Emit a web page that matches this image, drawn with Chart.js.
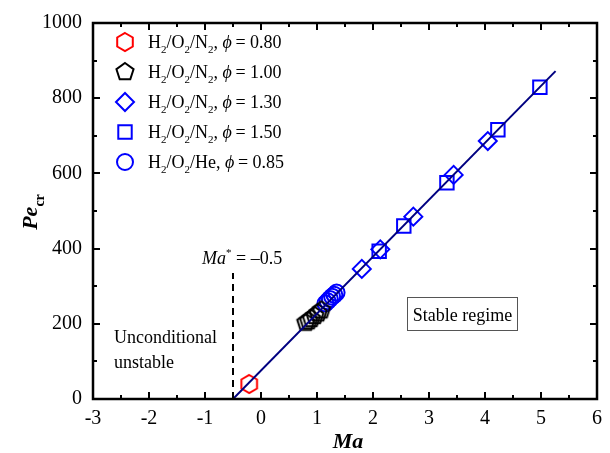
<!DOCTYPE html>
<html>
<head>
    <meta charset="UTF-8">
    <title>Pe_cr vs Ma</title>
    <script src="https://cdn.jsdelivr.net/npm/chart.js@4.4.1/dist/chart.umd.min.js"></script>
    <style>
        * { margin: 0; padding: 0; }
        body { background: #fff; width: 610px; height: 453px; overflow: hidden; }
    </style>
</head>
<body>
    <canvas id="chart" width="610" height="453"></canvas>
    <script>
        // data
        const maPhi080 = [-0.21];
        const pePhi080 = [40];
        const maPhi100 = [0.80, 0.85, 0.90, 0.96, 1.02, 1.08];
        const pePhi100 = [203, 207, 213, 221, 228, 236];
        const maPhi130 = [1.80, 2.13, 2.72, 3.44, 4.05];
        const pePhi130 = [346, 398, 485, 596, 686];
        const maPhi150 = [2.11, 2.55, 3.32, 4.23, 4.98];
        const pePhi150 = [393, 460, 575, 716, 829];
        const maHe085 = [1.15, 1.19, 1.23, 1.27, 1.31, 1.35];
        const peHe085 = [254, 260, 266, 272, 277, 283];
        const fitMa = [-0.5, 5.26];
        const fitPe = [0, 872];
        const critMa = [-0.5, -0.5];
        const critPe = [0, 335];
        const xTicks = [-3, -2, -1, 0, 1, 2, 3, 4, 5, 6];
        const yTicks = [0, 200, 400, 600, 800, 1000];

        const SERIF = '"Liberation Serif", "Times New Roman", serif';
        const toPts = (xs, ys) => xs.map((x, i) => ({ x: x, y: ys[i] }));

        function polygonImage(sides, r, color, lw) {
            const c = document.createElement('canvas');
            const s = Math.ceil(r * 2 + lw * 2 + 2);
            c.width = s; c.height = s;
            const g = c.getContext('2d');
            g.strokeStyle = color;
            g.lineWidth = lw;
            g.beginPath();
            for (let i = 0; i < sides; i++) {
                const a = -Math.PI / 2 + i * 2 * Math.PI / sides;
                const px = s / 2 + r * Math.cos(a), py = s / 2 + r * Math.sin(a);
                if (i === 0) g.moveTo(px, py); else g.lineTo(px, py);
            }
            g.closePath();
            g.stroke();
            return c;
        }

        const hexImg = polygonImage(6, 9, '#ff0000', 2);
        const pentImg = polygonImage(5, 9, '#000000', 2);

        const series = [
            { label: 'phi080', data: toPts(maPhi080, pePhi080), style: hexImg, color: '#ff0000', radius: 9,
              text: [['H'], ['2', 'sub'], ['/O'], ['2', 'sub'], ['/N'], ['2', 'sub'], [', '], ['\u03d5', 'i'], ['\u2009= 0.80']] },
            { label: 'phi100', data: toPts(maPhi100, pePhi100), style: pentImg, color: '#000000', radius: 9,
              text: [['H'], ['2', 'sub'], ['/O'], ['2', 'sub'], ['/N'], ['2', 'sub'], [', '], ['\u03d5', 'i'], ['\u2009= 1.00']] },
            { label: 'phi130', data: toPts(maPhi130, pePhi130), style: 'rectRot', color: '#0000ff', radius: 9,
              text: [['H'], ['2', 'sub'], ['/O'], ['2', 'sub'], ['/N'], ['2', 'sub'], [', '], ['\u03d5', 'i'], ['\u2009= 1.30']] },
            { label: 'phi150', data: toPts(maPhi150, pePhi150), style: 'rect', color: '#0000ff', radius: 9.5,
              text: [['H'], ['2', 'sub'], ['/O'], ['2', 'sub'], ['/N'], ['2', 'sub'], [', '], ['\u03d5', 'i'], ['\u2009= 1.50']] },
            { label: 'he085', data: toPts(maHe085, peHe085), style: 'circle', color: '#0000ff', radius: 8,
              text: [['H'], ['2', 'sub'], ['/O'], ['2', 'sub'], ['/He, '], ['\u03d5', 'i'], ['\u2009= 0.85']] }
        ];

        function drawRich(ctx, parts, x, y, size, align) {
            const fontFor = (s) => {
                if (s === 'sub' || s === 'sup') return Math.round(size * 0.62) + 'px ' + SERIF;
                if (s === 'i') return 'italic ' + size + 'px ' + SERIF;
                if (s === 'bi') return 'italic bold ' + size + 'px ' + SERIF;
                if (s === 'bsub') return 'bold ' + Math.round(size * 0.65) + 'px ' + SERIF;
                return size + 'px ' + SERIF;
            };
            let total = 0;
            parts.forEach(p => { ctx.font = fontFor(p[1]); total += ctx.measureText(p[0]).width; });
            let cx = align === 'center' ? x - total / 2 : x;
            ctx.textBaseline = 'alphabetic';
            ctx.textAlign = 'left';
            parts.forEach(p => {
                ctx.font = fontFor(p[1]);
                let dy = 0;
                if (p[1] === 'sub' || p[1] === 'bsub') dy = size * 0.3;
                if (p[1] === 'sup') dy = -size * 0.42;
                ctx.fillText(p[0], cx, y + dy);
                cx += ctx.measureText(p[0]).width;
            });
        }

        const framePlugin = {
            id: 'frame',
            afterDatasetsDraw(chart) {
                const ctx = chart.ctx;
                const a = chart.chartArea;
                const xs = chart.scales.x, ys = chart.scales.y;
                ctx.save();
                ctx.strokeStyle = '#000';
                ctx.fillStyle = '#000';

                // inward ticks on all four sides
                ctx.lineWidth = 2;
                for (let v = -3; v <= 6.001; v += 0.5) {
                    const px = Math.round(xs.getPixelForValue(v));
                    const len = Math.abs(v - Math.round(v)) < 1e-6 ? 7 : 4;
                    ctx.beginPath();
                    ctx.moveTo(px, a.bottom); ctx.lineTo(px, a.bottom - len);
                    ctx.moveTo(px, a.top); ctx.lineTo(px, a.top + len);
                    ctx.stroke();
                }
                for (let v = 0; v <= 1000; v += 100) {
                    const py = Math.round(ys.getPixelForValue(v));
                    const len = v % 200 === 0 ? 7 : 4;
                    ctx.beginPath();
                    ctx.moveTo(a.left, py); ctx.lineTo(a.left + len, py);
                    ctx.moveTo(a.right, py); ctx.lineTo(a.right - len, py);
                    ctx.stroke();
                }
                ctx.lineWidth = 2.5;
                ctx.strokeRect(a.left, a.top, a.right - a.left, a.bottom - a.top);

                // legend
                series.forEach((s, i) => {
                    const ly = 42 + i * 30;
                    ctx.strokeStyle = s.color;
                    ctx.fillStyle = 'rgba(0,0,0,0)';
                    ctx.lineWidth = 2;
                    Chart.helpers.drawPoint(ctx, { pointStyle: s.style, radius: s.radius, borderWidth: 2 }, 125, ly);
                    ctx.fillStyle = '#000';
                    drawRich(ctx, s.text, 148, ly + 6, 18);
                });

                // annotations
                ctx.fillStyle = '#000';
                drawRich(ctx, [['Ma', 'i'], ['*', 'sup'], [' = \u20130.5']], 202, 264, 18);
                drawRich(ctx, [['Unconditional']], 114, 343, 18);
                drawRich(ctx, [['unstable']], 114, 368, 18);
                ctx.strokeStyle = '#555';
                ctx.lineWidth = 1;
                ctx.strokeRect(407.5, 297.5, 110, 33);
                drawRich(ctx, [['Stable regime']], 462.5, 321, 18, 'center');

                // axis titles
                drawRich(ctx, [['Ma', 'bi']], 348, 448, 22, 'center');
                ctx.translate(37, 212);
                ctx.rotate(-Math.PI / 2);
                drawRich(ctx, [['Pe', 'bi'], ['cr', 'bsub']], 0, 0, 22, 'center');
                ctx.restore();
            }
        };

        const datasets = series.map(s => ({
            label: s.label,
            data: s.data,
            showLine: false,
            pointStyle: s.style,
            pointRadius: s.radius,
            pointHoverRadius: s.radius,
            pointBorderColor: s.color,
            pointBackgroundColor: 'rgba(0,0,0,0)',
            pointBorderWidth: 2
        }));
        datasets.unshift({
            label: 'fit',
            data: toPts(fitMa, fitPe),
            showLine: true,
            borderColor: '#000080',
            borderWidth: 2,
            pointRadius: 0
        });
        datasets.unshift({
            label: 'critical',
            data: toPts(critMa, critPe),
            showLine: true,
            borderColor: '#000',
            borderWidth: 2,
            borderDash: [7, 5],
            pointRadius: 0
        });

        new Chart(document.getElementById('chart').getContext('2d'), {
            type: 'scatter',
            data: { datasets: datasets },
            options: {
                responsive: false,
                animation: false,
                layout: { padding: { top: 20, right: 9, left: 0, bottom: 0 } },
                plugins: { legend: { display: false }, tooltip: { enabled: false } },
                scales: {
                    x: {
                        type: 'linear',
                        min: -3,
                        max: 6,
                        afterBuildTicks: (sc) => { sc.ticks = xTicks.map(v => ({ value: v })); },
                        afterFit: (sc) => { sc.height = 54; },
                        grid: { display: false, drawTicks: false },
                        border: { display: false },
                        ticks: { color: '#000', padding: 8, maxRotation: 0, font: { family: SERIF, size: 20 },
                                 callback: (v) => String(v) }
                    },
                    y: {
                        type: 'linear',
                        min: 0,
                        max: 1000,
                        afterBuildTicks: (sc) => { sc.ticks = yTicks.map(v => ({ value: v })); },
                        afterFit: (sc) => { sc.width = 93; },
                        grid: { display: false, drawTicks: false },
                        border: { display: false },
                        ticks: { color: '#000', padding: 11, font: { family: SERIF, size: 20 },
                                 callback: (v) => String(v) }
                    }
                }
            },
            plugins: [framePlugin]
        });
    </script>
</body>
</html>
